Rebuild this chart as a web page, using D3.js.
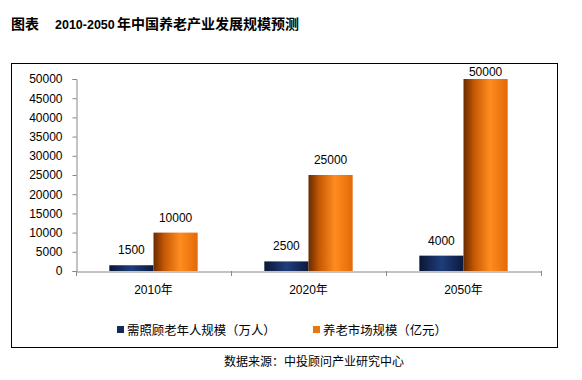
<!DOCTYPE html>
<html><head><meta charset="utf-8">
<script src="https://cdn.jsdelivr.net/npm/d3@7/dist/d3.min.js"></script>
<style>body{margin:0;background:#fff;}svg{display:block;}</style>
</head><body>
<svg id="c" width="582" height="380"></svg>
<script>
const categories = ["2010年", "2020年", "2050年"];
const seriesNames = ["需照顾老年人规模（万人）", "养老市场规模（亿元）"];
const elderly = [1500, 2500, 4000];
const market = [10000, 25000, 50000];
const yTicks = [0, 5000, 10000, 15000, 20000, 25000, 30000, 35000, 40000, 45000, 50000];

const svg = d3.select("#c");
const num = "'Liberation Sans', Arial, sans-serif";
const cjk = "'Noto Sans CJK SC', sans-serif";

const defs = svg.append("defs");
function grad(id, stops){
  const g = defs.append("linearGradient").attr("id", id).attr("x1","0").attr("x2","1").attr("y1","0").attr("y2","0");
  stops.forEach(s => g.append("stop").attr("offset", s[0]).attr("stop-color", s[1]));
}
grad("gNavy", [["0","#0a1736"],["0.5","#1f3d7c"],["1","#0b1a3e"]]);
grad("gOrange", [["0","#6a2a00"],["0.25","#c65a05"],["0.6","#ff8c1f"],["1","#e26a08"]]);

// title
const t = svg.append("text").attr("x", 11).attr("y", 29).attr("font-weight", "bold").attr("fill", "#000");
t.append("tspan").attr("font-family", cjk).attr("font-size", 14).text("图表");
t.append("tspan").attr("x", 55).attr("font-family", num).attr("font-size", 12.5).text("2010-2050");
t.append("tspan").attr("x", 117).attr("font-family", cjk).attr("font-size", 14).text("年中国养老产业发展规模预测");

// frame
svg.append("rect").attr("x", 11.5).attr("y", 63.5).attr("width", 546).attr("height", 284)
  .attr("fill", "none").attr("stroke", "#000").attr("stroke-width", 1);

const x0 = d3.scaleBand().domain(categories).range([76, 541]).paddingInner(0).paddingOuter(0);
const y = d3.scaleLinear().domain([0, 50000]).range([271, 79]);
const barW = x0.bandwidth() * 0.285;

// y axis
const yAxis = svg.append("g").attr("transform", "translate(76.5,0)")
  .call(d3.axisLeft(y).tickValues(yTicks).tickSize(4).tickPadding(10).tickFormat(d3.format("d")));
yAxis.select(".domain").attr("stroke", "#868686");
yAxis.selectAll(".tick line").attr("stroke", "#868686");
yAxis.selectAll("text").attr("font-family", num).attr("font-size", 12).attr("fill", "#000");

// bars
const g = svg.append("g");
categories.forEach((c, i) => {
  const cx = x0(c) + x0.bandwidth() / 2;
  const vals = [elderly[i], market[i]];
  vals.forEach((v, j) => {
    const bx = cx - barW + j * barW;
    g.append("rect").attr("x", bx).attr("y", y(v)).attr("width", barW).attr("height", y(0) - y(v))
      .attr("fill", j === 0 ? "url(#gNavy)" : "url(#gOrange)");
    g.append("text").attr("x", bx + barW / 2).attr("y", Math.max(y(v) - 11, 76))
      .attr("text-anchor", "middle").attr("font-family", num).attr("font-size", 12).attr("fill", "#000")
      .text(v);
  });
});

// x axis
const xAxis = svg.append("g").attr("transform", "translate(0,271.5)")
  .call(d3.axisBottom(x0).tickSize(0).tickPadding(14));
xAxis.select(".domain").attr("stroke", "#868686");
xAxis.selectAll(".tick line").remove();
xAxis.selectAll("text").attr("font-family", "'Liberation Sans', 'Noto Sans CJK SC', sans-serif").attr("font-size", 12).attr("fill", "#000");
// boundary ticks
const bounds = categories.map(c => x0(c)).concat([x0.range()[1]]);
svg.append("g").selectAll("line").data(bounds).join("line")
  .attr("x1", d => Math.round(d) + 0.5).attr("x2", d => Math.round(d) + 0.5)
  .attr("y1", 271).attr("y2", 276).attr("stroke", "#868686");

// legend
const leg = [{x: 117, c: "#112a5c", name: seriesNames[0]}, {x: 313, c: "#e8770f", name: seriesNames[1]}];
leg.forEach(l => {
  svg.append("rect").attr("x", l.x).attr("y", 326).attr("width", 7).attr("height", 7).attr("fill", l.c);
  svg.append("text").attr("x", l.x + 10).attr("y", 334.5).attr("font-family", cjk).attr("font-size", 12.4)
    .attr("fill", "#000").text(l.name);
});

// source
svg.append("text").attr("x", 224).attr("y", 365.5).attr("font-family", cjk).attr("font-size", 12)
  .attr("fill", "#000").text("数据来源：中投顾问产业研究中心");
</script>
</body></html>
